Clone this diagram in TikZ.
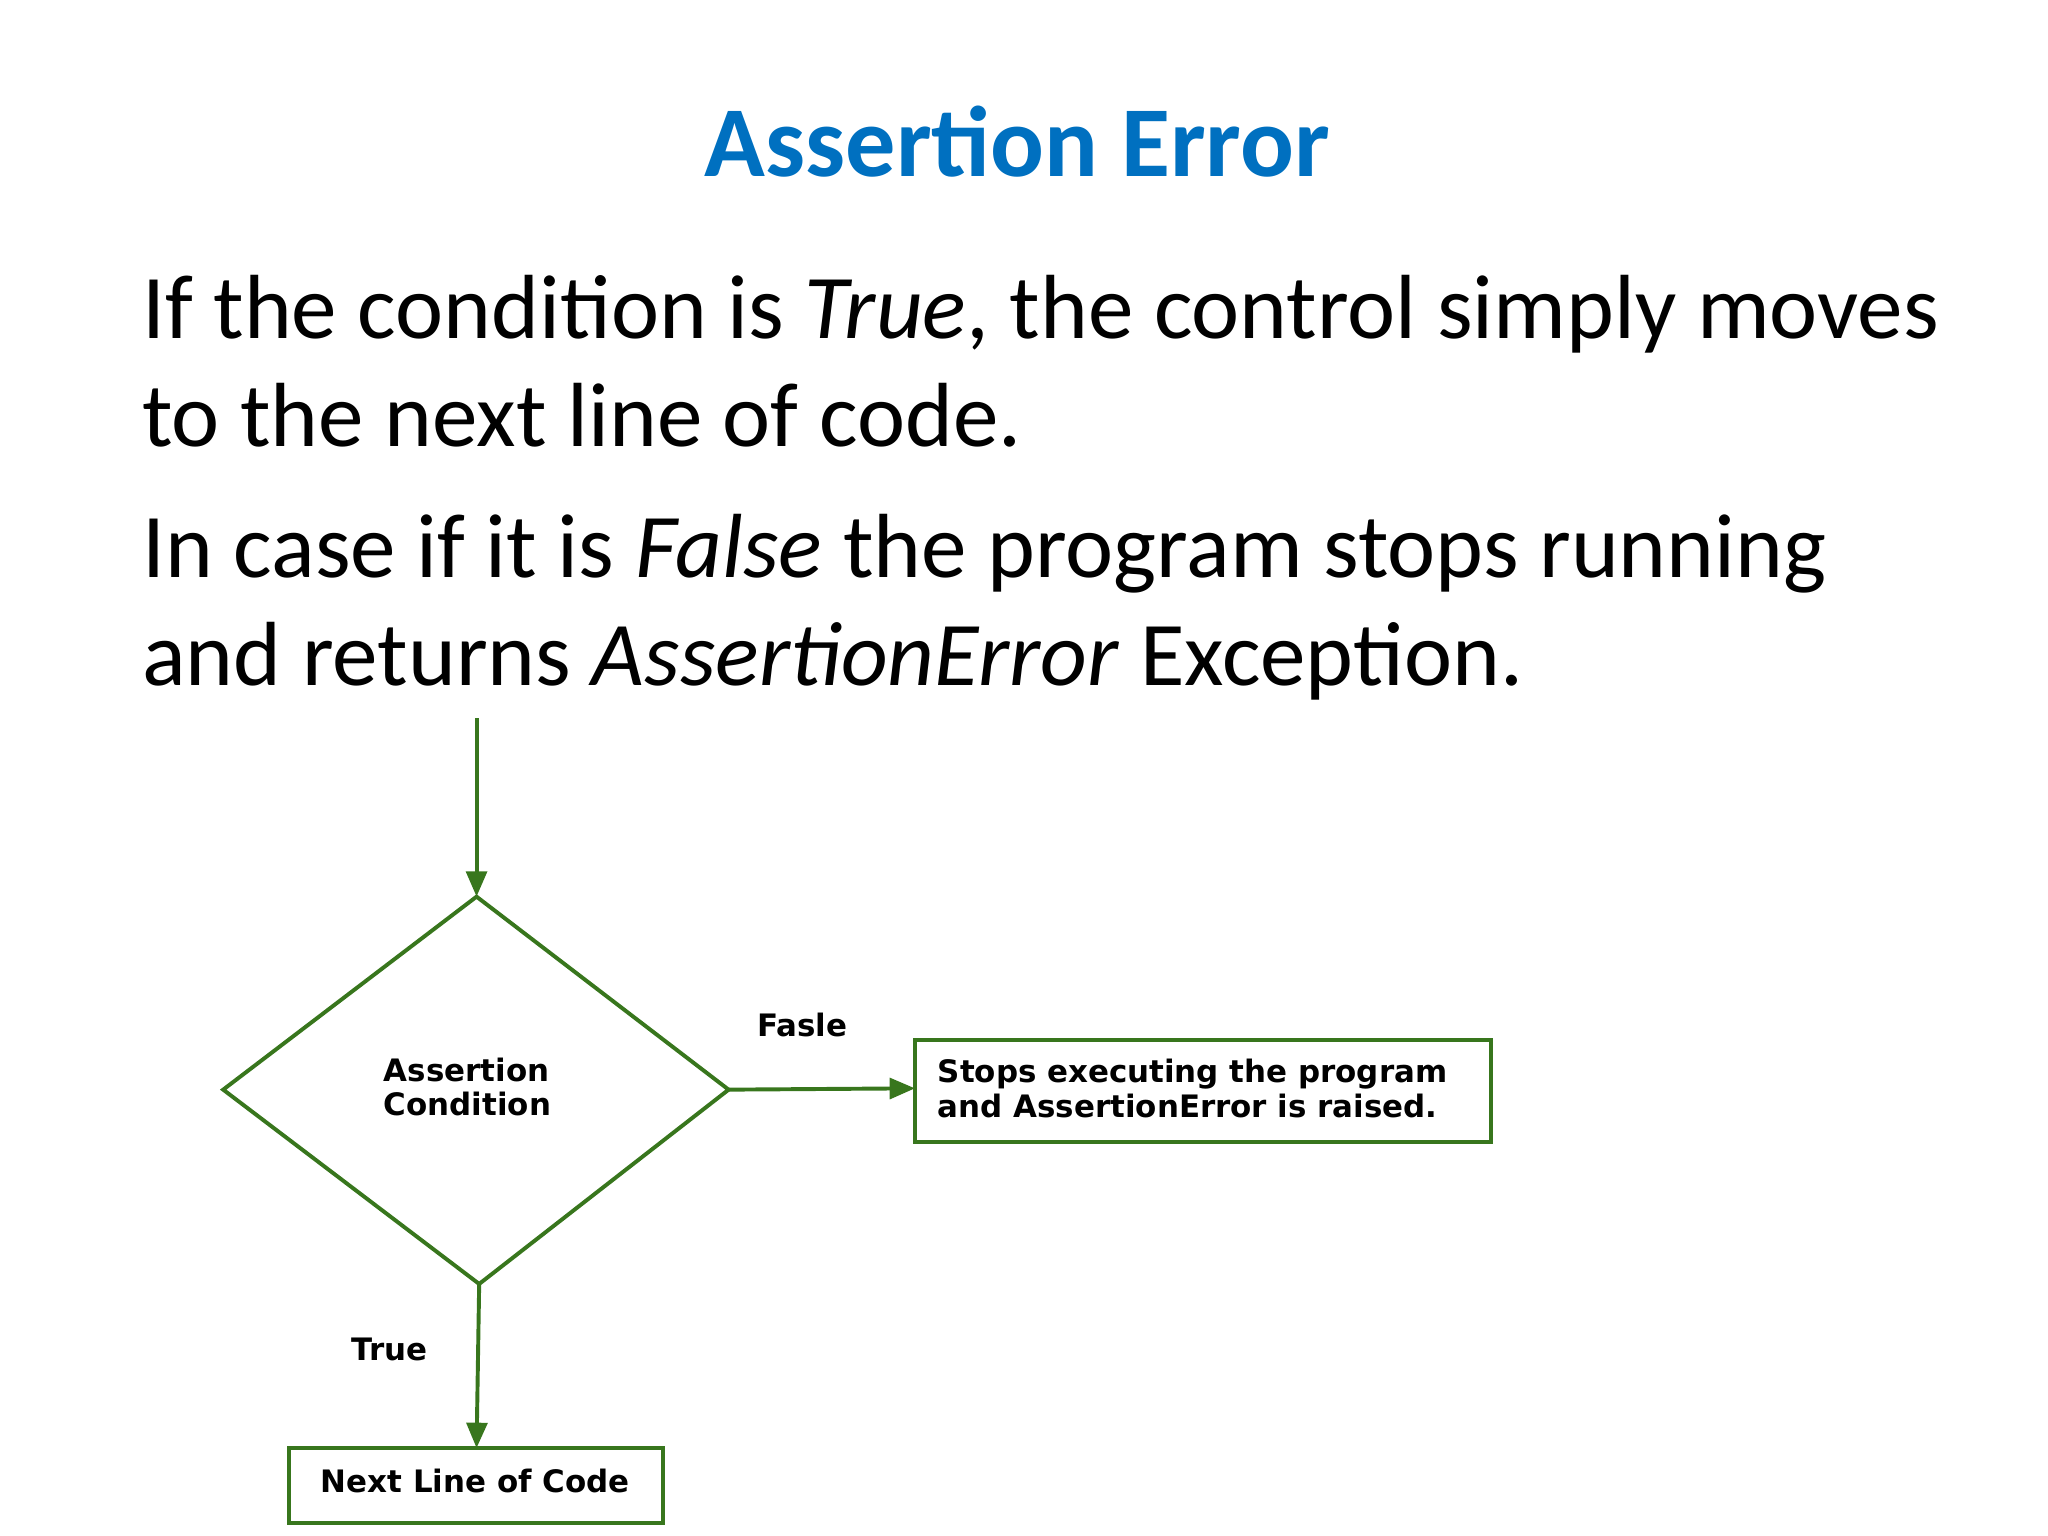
\documentclass[tikz,border=0pt]{standalone}
\usepackage{fontspec}
\setmainfont{Carlito}
\newfontfamily\dia{DejaVu Sans}
\usetikzlibrary{arrows.meta,shapes.geometric}
\definecolor{ttl}{RGB}{0,112,192}
\definecolor{grn}{RGB}{56,118,29}
\tikzset{
  body/.style={anchor=base west,inner sep=0pt,font=\fontsize{39.5}{47}\selectfont},
  flow/.style={draw=grn,line width=1.7pt,-{Triangle[length=11pt,width=9pt]}},
  gbox/.style={draw=grn,line width=1.7pt},
  dlab/.style={font=\dia\bfseries\fontsize{13.4}{15}\selectfont,inner sep=0pt}
}
\begin{document}
\begin{tikzpicture}[x=0.02cm,y=-0.02cm]
\useasboundingbox (0,0) rectangle (1560,1170);
\node[text=ttl,font=\bfseries\fontsize{43.5}{52}\selectfont] (title) at (775,108) {Assertion Error};
\node[body] (l1) at (108,258) {If the condition is \textit{True}, the control simply moves};
\node[body] (l2) at (108,340) {to the next line of code.};
\node[body] (l3) at (108,440) {In case if it is \textit{False} the program stops running};
\node[body] (l4) at (108,522) {and returns \textit{AssertionError} Exception.};
\coordinate (start) at (363,547);
\coordinate (dt) at (363,683);
\coordinate (dl) at (170,830);
\coordinate (dr) at (555,830);
\coordinate (db) at (365,978);
\draw[gbox] (dt) -- (dr) -- (db) -- (dl) -- cycle;
\node[dlab,align=left,anchor=west] (cond) at (292,828) {Assertion\\Condition};
\draw[gbox] (697,792) rectangle (1136,870);
\node[dlab,align=left,anchor=west] (errt) at (714,829) {Stops executing the program\\and AssertionError is raised.};
\draw[gbox] (220,1103) rectangle (505,1160);
\node[dlab] (next) at (362,1128) {Next Line of Code};
\coordinate (errW) at (697,829);
\coordinate (nextN) at (363,1103);
\draw[flow] (start) -- (dt);
\draw[flow] (dr) -- (errW);
\draw[flow] (db) -- (nextN);
\node[dlab] (fl) at (611,781) {Fasle};
\node[dlab] (tl) at (297,1028) {True};
\end{tikzpicture}
\end{document}
